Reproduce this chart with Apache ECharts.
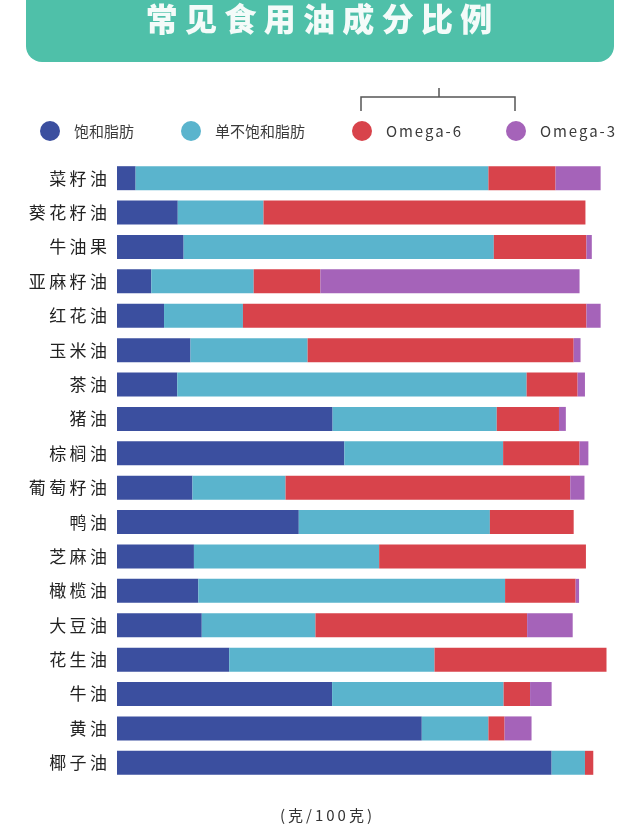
<!DOCTYPE html>
<html>
<head>
<meta charset="utf-8">
<script src="https://cdn.jsdelivr.net/npm/echarts@6/dist/echarts.min.js"></script>
<style>
html,body{margin:0;padding:0;background:#fff;}
#chart{width:640px;height:825px;}
</style>
</head>
<body>
<div id="chart"></div>
<script>
const categories = ['菜籽油','葵花籽油','牛油果','亚麻籽油','红花油','玉米油','茶油','猪油','棕榈油','葡萄籽油','鸭油','芝麻油','橄榄油','大豆油','花生油','牛油','黄油','椰子油'];
const saturated   = [3.8, 12.4, 13.6, 7.0, 9.6, 15.0, 12.3, 44.0, 46.4, 15.4, 37.1, 15.7, 16.6, 17.3, 22.9, 43.9, 62.2, 88.7];
const monounsat   = [72.0, 17.5, 63.3, 20.9, 16.1, 23.9, 71.3, 33.5, 32.4, 19.0, 39.0, 37.8, 62.6, 23.2, 41.9, 35.0, 13.6, 6.8];
const omega6      = [13.7, 65.7, 18.9, 13.6, 70.1, 54.3, 10.4, 12.7, 15.6, 58.1, 17.1, 42.2, 14.4, 43.2, 35.1, 5.4, 3.3, 1.7];
const omega3      = [9.2, 0, 1.1, 52.9, 2.9, 1.4, 1.5, 1.4, 1.8, 2.9, 0, 0, 0.7, 9.3, 0, 4.4, 5.5, 0];
const seriesNames = ['饱和脂肪','单不饱和脂肪','Omega-6','Omega-3'];
const colors = ['#3b4f9f','#5ab4cd','#d8434b','#a563b9'];
const unitLabel = '(克/100克)';
const titleText = '常见食用油成分比例';

const chart = echarts.init(document.getElementById('chart'));
const spaced = s => s.split('').join('\u2009');
const wide = s => s.split('').join('\u200A\u200A');
const dataSets = [saturated, monounsat, omega6, omega3];
const legendLeft = [35, 176, 347, 501];

const option = {
  backgroundColor: '#fff',
  animation: false,
  grid: {left: 117, width: 490, top: 161, height: 619},
  xAxis: {type: 'value', min: 0, max: 100, show: false},
  yAxis: {
    type: 'category', data: categories, inverse: true,
    axisLine: {show: false}, axisTick: {show: false},
    axisLabel: {
      margin: 10, fontSize: 17, color: '#222',
      fontFamily: 'Noto Sans CJK SC',
      formatter: v => spaced(v)
    }
  },
  legend: seriesNames.map((n, i) => ({
    data: [n], left: legendLeft[i], top: 116,
    icon: 'circle', itemWidth: 20, itemHeight: 20,
    textStyle: {
      fontSize: 15, color: '#3a3a3a', fontFamily: 'Noto Sans CJK SC',
      padding: [0, 0, 0, 9]
    },
    formatter: name => i >= 2 ? wide(name) : name,
    selectedMode: false
  })),
  series: seriesNames.map((n, i) => ({
    name: n, type: 'bar', stack: 'total', barWidth: 24,
    itemStyle: {color: colors[i]},
    data: dataSets[i]
  })),
  graphic: [
    {type: 'rect', shape: {x: 26, y: -30, width: 588, height: 92, r: 16}, style: {fill: '#4fc0a9'}},
    {type: 'text', x: 319, y: 19, style: {
      text: titleText.split('').join(' '), fill: '#f4fbf9', fontSize: 32, fontWeight: 900,
      fontFamily: 'Noto Sans CJK SC', align: 'center', verticalAlign: 'middle'}},
    {type: 'polyline', shape: {points: [[361, 111], [361, 97], [515, 97], [515, 111]]},
      style: {stroke: '#555', lineWidth: 1.5, fill: null}},
    {type: 'line', shape: {x1: 439, y1: 88, x2: 439, y2: 97}, style: {stroke: '#555', lineWidth: 1.5}},
    {type: 'text', x: 326, y: 815, style: {
      text: spaced(unitLabel), fill: '#333', fontSize: 15, fontFamily: 'Noto Sans CJK SC',
      align: 'center', verticalAlign: 'middle'}}
  ]
};
chart.setOption(option);
</script>
</body>
</html>
